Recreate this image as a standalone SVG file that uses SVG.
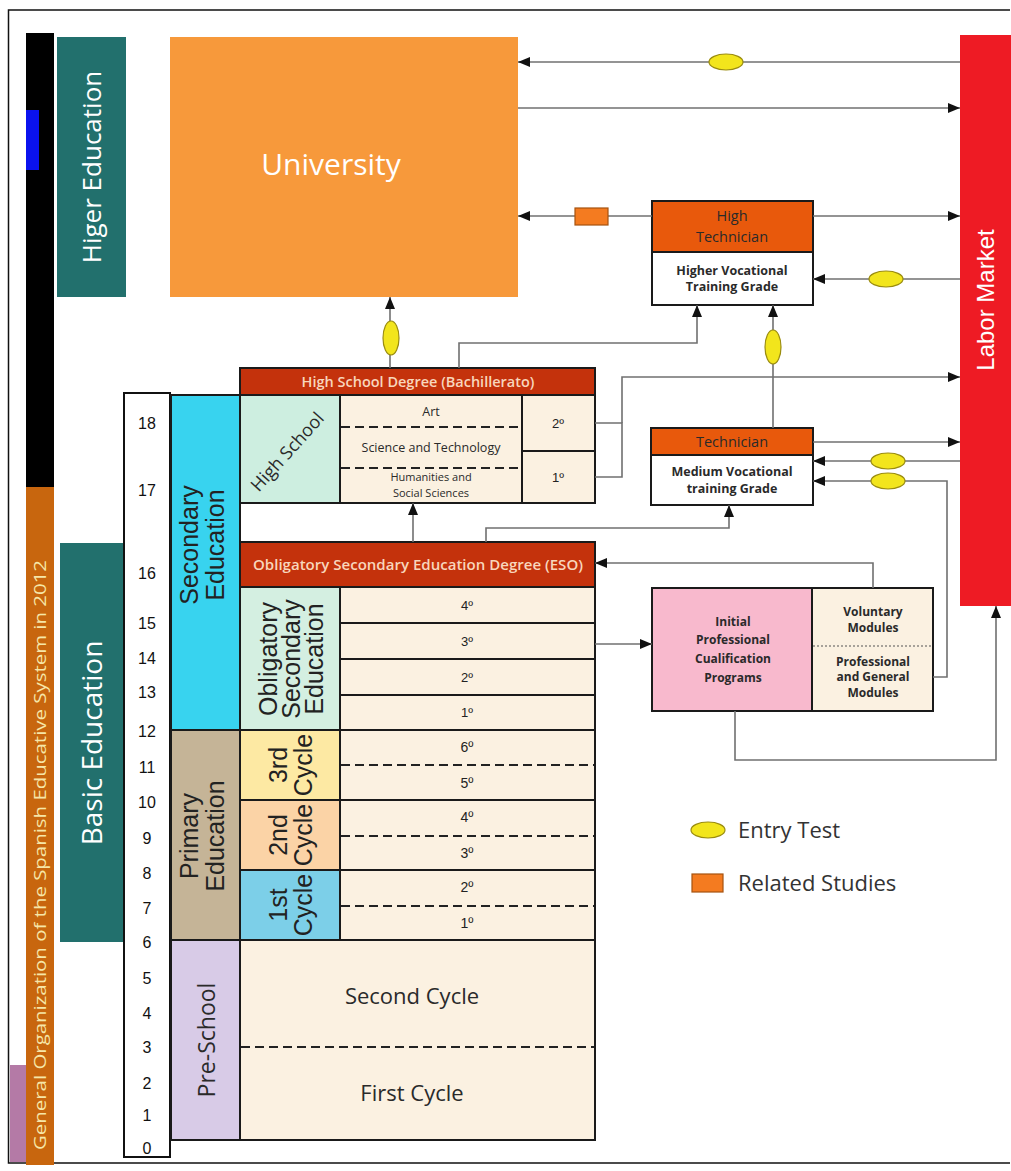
<svg xmlns="http://www.w3.org/2000/svg" width="1011" height="1171" viewBox="0 0 1011 1171">
<defs>
<marker id="ah" markerUnits="userSpaceOnUse" markerWidth="13" markerHeight="11" refX="12" refY="5" orient="auto">
<path d="M0,0 L12,5 L0,10 z" fill="#111"/>
</marker>
<style>
.cell{stroke:#1a1a1a;stroke-width:2}
.cream{fill:#fbf1e1}
.hdr{fill:#c4320c}
.hdrt{fill:#f8d6bc;font-family:"Open Sans","Liberation Sans",sans-serif;font-weight:600;text-anchor:middle}
.ar{font-family:"Liberation Sans",Arial,sans-serif;text-anchor:middle;fill:#222}
.os{font-family:"Open Sans","Liberation Sans",sans-serif;text-anchor:middle;fill:#2a2a2a}
.age{font-family:"Liberation Sans",Arial,sans-serif;font-size:16px;text-anchor:middle;fill:#111}
.dash{stroke:#222;stroke-width:2;stroke-dasharray:9,5}
.conn{fill:none;stroke:#707070;stroke-width:1.6}
.arr{marker-end:url(#ah)}
.ell{fill:#f2e51c;stroke:#9a8c10;stroke-width:1.2}
.rel{fill:#f47b20;stroke:#a65310;stroke-width:1.2}
.bold{font-weight:700}
</style>
</defs>
<rect x="0" y="0" width="1011" height="1171" fill="#ffffff"/>
<path d="M1010,10 L8.5,10 L8.5,1163 L1010,1163" fill="none" stroke="#111" stroke-width="1.5"/>

<!-- left bars -->
<g id="side-bar">
<rect x="26" y="33" width="28" height="454" fill="#000"/>
<rect x="26" y="110" width="13" height="60" fill="#0a12ee"/>
<rect x="26" y="487" width="28" height="678" fill="#c8660e"/>
<rect x="10" y="1065" width="16" height="97" fill="#b47aa6"/>
<text transform="rotate(-90,46,855)" x="46" y="855" font-family="'Open Sans','Liberation Sans',sans-serif" font-size="17" fill="#f6e6a8" text-anchor="middle" textLength="590" lengthAdjust="spacingAndGlyphs">General Organization of the Spanish Educative System in 2012</text>
</g>

<g id="higher-education">
<rect x="57" y="37" width="69" height="260" fill="#22706d"/>
<text transform="rotate(-90,101,167)" x="101" y="167" font-family="'Open Sans','Liberation Sans',sans-serif" font-size="26" fill="#fff" text-anchor="middle">Higer Education</text>
</g>

<g id="basic-education">
<rect x="60" y="543" width="64" height="399" fill="#22706d"/>
<text transform="rotate(-90,102,743)" x="102" y="743" font-family="'Open Sans','Liberation Sans',sans-serif" font-size="28" fill="#fff" text-anchor="middle">Basic Education</text>
</g>

<g id="university">
<rect x="170" y="37" width="348" height="260" fill="#f7993b"/>
<text x="331" y="175" font-family="'Open Sans','Liberation Sans',sans-serif" font-size="30" fill="#fff" text-anchor="middle">University</text>
</g>

<g id="labor-market">
<rect x="960" y="35" width="51" height="571" fill="#ee1b24"/>
<text transform="rotate(-90,994,300)" x="994" y="300" font-family="'Liberation Sans',Arial,sans-serif" font-size="24" fill="#fff" text-anchor="middle">Labor Market</text>
</g>

<g id="age-column">
<rect x="124" y="393" width="46" height="764" fill="#fff" stroke="#111" stroke-width="2"/>
<text class="age" x="147" y="429">18</text>
<text class="age" x="147" y="496">17</text>
<text class="age" x="147" y="579">16</text>
<text class="age" x="147" y="629">15</text>
<text class="age" x="147" y="664">14</text>
<text class="age" x="147" y="698">13</text>
<text class="age" x="147" y="737">12</text>
<text class="age" x="147" y="773">11</text>
<text class="age" x="147" y="808">10</text>
<text class="age" x="147" y="844">9</text>
<text class="age" x="147" y="879">8</text>
<text class="age" x="147" y="914">7</text>
<text class="age" x="147" y="948">6</text>
<text class="age" x="147" y="984">5</text>
<text class="age" x="147" y="1019">4</text>
<text class="age" x="147" y="1053">3</text>
<text class="age" x="147" y="1089">2</text>
<text class="age" x="147" y="1121">1</text>
<text class="age" x="147" y="1154">0</text>
</g>

<g id="secondary-education">
<rect class="cell" x="171" y="395" width="69" height="335" fill="#38d3ef"/>
<text class="ar" transform="rotate(-90,198,545)" x="198" y="545" font-size="25" fill="#1c2e3c">Secondary</text>
<text class="ar" transform="rotate(-90,224,545)" x="224" y="545" font-size="25" fill="#1c2e3c">Education</text>
</g>

<g id="primary-education">
<rect class="cell" x="171" y="730" width="69" height="210" fill="#c5b497"/>
<text class="ar" transform="rotate(-90,198,836)" x="198" y="836" font-size="25" fill="#2a2a3a">Primary</text>
<text class="ar" transform="rotate(-90,224,836)" x="224" y="836" font-size="25" fill="#2a2a3a">Education</text>
</g>

<g id="pre-school">
<rect class="cell" x="171" y="940" width="69" height="200" fill="#d8cbe7"/>
<text class="os" transform="rotate(-90,215,1040)" x="215" y="1040" font-size="23" fill="#3a2860">Pre-School</text>
<rect class="cell cream" x="240" y="940" width="355" height="200"/>
<line class="dash" x1="241" y1="1047" x2="594" y2="1047"/>
<text class="os" x="412" y="1004" font-size="22">Second Cycle</text>
<text class="os" x="412" y="1101" font-size="22">First Cycle</text>
</g>

<g id="primary-cycles">
<rect class="cell" x="240" y="730" width="100" height="70" fill="#fde9a3"/>
<rect class="cell" x="240" y="800" width="100" height="70" fill="#fbd3a6"/>
<rect class="cell" x="240" y="870" width="100" height="70" fill="#7ccfe8"/>
<text class="ar" transform="rotate(-90,287,765)" x="287" y="765" font-size="25" fill="#1a3050">3rd</text>
<text class="ar" transform="rotate(-90,312,765)" x="312" y="765" font-size="25" fill="#1a3050">Cycle</text>
<text class="ar" transform="rotate(-90,287,835)" x="287" y="835" font-size="25" fill="#1a3050">2nd</text>
<text class="ar" transform="rotate(-90,312,835)" x="312" y="835" font-size="25" fill="#1a3050">Cycle</text>
<text class="ar" transform="rotate(-90,287,905)" x="287" y="905" font-size="25" fill="#1a3050">1st</text>
<text class="ar" transform="rotate(-90,312,905)" x="312" y="905" font-size="25" fill="#1a3050">Cycle</text>
<rect class="cell cream" x="340" y="730" width="255" height="70"/>
<rect class="cell cream" x="340" y="800" width="255" height="70"/>
<rect class="cell cream" x="340" y="870" width="255" height="70"/>
<line class="dash" x1="341" y1="765" x2="594" y2="765"/>
<line class="dash" x1="341" y1="836" x2="594" y2="836"/>
<line class="dash" x1="341" y1="906" x2="594" y2="906"/>
<text class="ar" x="467" y="752" font-size="14">6º</text>
<text class="ar" x="467" y="788" font-size="14">5º</text>
<text class="ar" x="467" y="822" font-size="14">4º</text>
<text class="ar" x="467" y="858" font-size="14">3º</text>
<text class="ar" x="467" y="892" font-size="14">2º</text>
<text class="ar" x="467" y="928" font-size="14">1º</text>
</g>

<g id="eso">
<rect class="cell hdr" x="240" y="542" width="355" height="45"/>
<text class="hdrt" x="418" y="570" font-size="14" textLength="330" lengthAdjust="spacingAndGlyphs">Obligatory Secondary Education Degree (ESO)</text>
<rect class="cell" x="240" y="587" width="100" height="143" fill="#d4efe1"/>
<text class="ar" transform="rotate(-90,277,659)" x="277" y="659" font-size="25" fill="#1a3a34">Obligatory</text>
<text class="ar" transform="rotate(-90,300,659)" x="300" y="659" font-size="25" fill="#1a3a34">Secondary</text>
<text class="ar" transform="rotate(-90,323,659)" x="323" y="659" font-size="25" fill="#1a3a34">Education</text>
<rect class="cell cream" x="340" y="587" width="255" height="36"/>
<rect class="cell cream" x="340" y="623" width="255" height="36"/>
<rect class="cell cream" x="340" y="659" width="255" height="36"/>
<rect class="cell cream" x="340" y="695" width="255" height="35"/>
<text class="ar" x="467" y="610" font-size="13">4º</text>
<text class="ar" x="467" y="646" font-size="13">3º</text>
<text class="ar" x="467" y="682" font-size="13">2º</text>
<text class="ar" x="467" y="717" font-size="13">1º</text>
</g>

<g id="high-school">
<rect class="cell hdr" x="240" y="368" width="355" height="27"/>
<text class="hdrt" x="418" y="387" font-size="14.5">High School Degree (Bachillerato)</text>
<rect class="cell" x="240" y="395" width="100" height="108" fill="#cdeee0"/>
<text class="os" transform="rotate(-48,292,456)" x="292" y="456" font-size="18" fill="#1d3d30">High School</text>
<rect class="cell cream" x="340" y="395" width="182" height="108"/>
<line class="dash" x1="341" y1="427" x2="521" y2="427"/>
<line class="dash" x1="341" y1="468" x2="521" y2="468"/>
<text class="os" x="431" y="416" font-size="12.5">Art</text>
<text class="os" x="431" y="452" font-size="12.5">Science and Technology</text>
<text class="os" x="431" y="481" font-size="11">Humanities and</text>
<text class="os" x="431" y="497" font-size="11">Social Sciences</text>
<rect class="cell cream" x="522" y="395" width="73" height="56"/>
<rect class="cell cream" x="522" y="451" width="73" height="52"/>
<text class="ar" x="558" y="428" font-size="13">2º</text>
<text class="ar" x="558" y="482" font-size="13">1º</text>
</g>

<g id="high-technician">
<rect class="cell" x="652" y="201" width="161" height="51" fill="#e8590c"/>
<rect class="cell" x="652" y="252" width="161" height="53" fill="#fff"/>
<text class="os" x="732" y="221" font-size="14.5" fill="#fbe0cc">High</text>
<text class="os" x="732" y="242" font-size="14.5" fill="#fbe0cc">Technician</text>
<text class="os bold" x="732" y="275" font-size="12.5" fill="#222">Higher Vocational</text>
<text class="os bold" x="732" y="291" font-size="12.5" fill="#222">Training Grade</text>
</g>

<g id="technician">
<rect class="cell" x="651" y="428" width="162" height="27" fill="#e8590c"/>
<rect class="cell" x="651" y="455" width="162" height="50" fill="#fff"/>
<text class="os" x="732" y="447" font-size="14.5" fill="#fbe0cc">Technician</text>
<text class="os bold" x="732" y="476" font-size="12.5" fill="#222">Medium Vocational</text>
<text class="os bold" x="732" y="493" font-size="12.5" fill="#222">training Grade</text>
</g>

<g id="ipcp">
<rect class="cell" x="652" y="588" width="160" height="123" fill="#f8b9cd"/>
<rect class="cell cream" x="812" y="588" width="121" height="123"/>
<line x1="813" y1="646" x2="932" y2="646" stroke="#555" stroke-width="1.2" stroke-dasharray="2,2"/>
<text class="os bold" x="733" y="626" font-size="12" fill="#5a1a2a">Initial</text>
<text class="os bold" x="733" y="644" font-size="12" fill="#5a1a2a">Professional</text>
<text class="os bold" x="733" y="663" font-size="12" fill="#5a1a2a">Cualification</text>
<text class="os bold" x="733" y="682" font-size="12" fill="#5a1a2a">Programs</text>
<text class="os bold" x="873" y="616" font-size="12" fill="#222">Voluntary</text>
<text class="os bold" x="873" y="632" font-size="12" fill="#222">Modules</text>
<text class="os bold" x="873" y="666" font-size="12" fill="#222">Professional</text>
<text class="os bold" x="873" y="681" font-size="12" fill="#222">and General</text>
<text class="os bold" x="873" y="697" font-size="12" fill="#222">Modules</text>
</g>

<g id="connectors">
<path class="conn arr" d="M960,62 L518,62"/>
<path class="conn arr" d="M518,108 L960,108"/>
<path class="conn arr" d="M652,216 L518,216"/>
<path class="conn arr" d="M813,216 L960,216"/>
<path class="conn arr" d="M960,279 L813,279"/>
<path class="conn arr" d="M390,368 L390,297"/>
<path class="conn arr" d="M459,368 L459,343 L697,343 L697,305"/>
<path class="conn arr" d="M773,428 L773,305"/>
<path class="conn" d="M595,477 L622,477 L622,423 L595,423"/>
<path class="conn arr" d="M622,423 L622,377 L960,377"/>
<path class="conn arr" d="M813,442 L960,442"/>
<path class="conn arr" d="M960,461 L813,461"/>
<path class="conn arr" d="M933,677 L947,677 L947,481 L813,481"/>
<path class="conn arr" d="M413,542 L413,503"/>
<path class="conn arr" d="M486,542 L486,528 L729,528 L729,505"/>
<path class="conn arr" d="M873,588 L873,563 L595,563"/>
<path class="conn arr" d="M595,644 L652,644"/>
<path class="conn arr" d="M735,711 L735,760 L996,760 L996,606"/>
<ellipse class="ell" cx="726" cy="62" rx="17" ry="8"/>
<rect class="rel" x="575" y="208" width="33" height="17"/>
<ellipse class="ell" cx="886" cy="279" rx="17" ry="8"/>
<ellipse class="ell" cx="391" cy="338" rx="8" ry="17"/>
<ellipse class="ell" cx="773" cy="347" rx="8" ry="17"/>
<ellipse class="ell" cx="888" cy="461" rx="17" ry="8"/>
<ellipse class="ell" cx="888" cy="481" rx="17" ry="8"/>
</g>

<g id="legend">
<ellipse class="ell" cx="708" cy="830" rx="17" ry="8"/>
<text x="738" y="838" font-family="'Open Sans','Liberation Sans',sans-serif" font-size="22" fill="#333">Entry Test</text>
<rect class="rel" x="692" y="874" width="31" height="18"/>
<text x="738" y="891" font-family="'Open Sans','Liberation Sans',sans-serif" font-size="22" fill="#333">Related Studies</text>
</g>
</svg>
